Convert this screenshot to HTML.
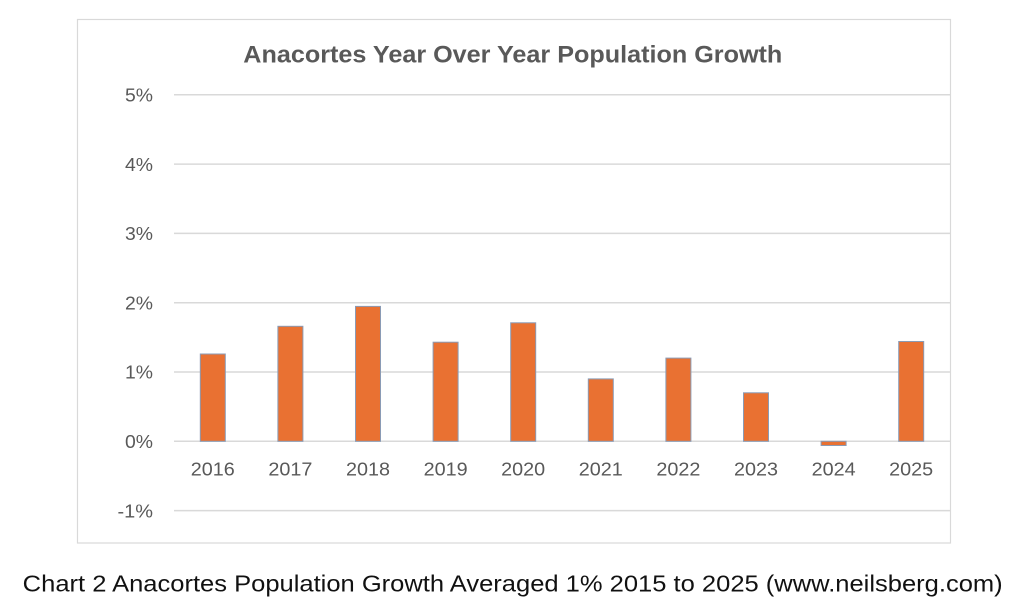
<!DOCTYPE html>
<html>
<head>
<meta charset="utf-8">
<style>
  html, body { margin: 0; padding: 0; background: #ffffff; }
  svg { display: block; }
  text { font-family: "Liberation Sans", "DejaVu Sans", sans-serif; }
</style>
</head>
<body>
<svg width="1024" height="616" viewBox="0 0 1024 616" xmlns="http://www.w3.org/2000/svg">
  <rect x="0" y="0" width="1024" height="616" fill="#ffffff"/>
  <!-- chart border -->
  <rect x="77.5" y="19.5" width="873" height="523.5" fill="#ffffff" stroke="#d9d9d9" stroke-width="1.2"/>

  <!-- title -->
  <text x="243.3" y="62.3" font-size="24" font-weight="bold" fill="#595959" textLength="539" lengthAdjust="spacingAndGlyphs">Anacortes Year Over Year Population Growth</text>

  <!-- gridlines -->
  <g stroke="#d9d9d9" stroke-width="1.5">
    <line x1="174" y1="94.8" x2="950" y2="94.8"/>
    <line x1="174" y1="164.1" x2="950" y2="164.1"/>
    <line x1="174" y1="233.4" x2="950" y2="233.4"/>
    <line x1="174" y1="302.7" x2="950" y2="302.7"/>
    <line x1="174" y1="372.0" x2="950" y2="372.0"/>
    <line x1="174" y1="441.3" x2="950" y2="441.3"/>
    <line x1="174" y1="510.6" x2="950" y2="510.6"/>
  </g>

  <!-- y tick labels -->
  <g font-size="18.5" fill="#595959" text-anchor="end">
    <text x="153" y="101.5" textLength="28" lengthAdjust="spacingAndGlyphs">5%</text>
    <text x="153" y="170.8" textLength="28" lengthAdjust="spacingAndGlyphs">4%</text>
    <text x="153" y="240.1" textLength="28" lengthAdjust="spacingAndGlyphs">3%</text>
    <text x="153" y="309.4" textLength="28" lengthAdjust="spacingAndGlyphs">2%</text>
    <text x="153" y="378.7" textLength="28" lengthAdjust="spacingAndGlyphs">1%</text>
    <text x="153" y="448.0" textLength="28" lengthAdjust="spacingAndGlyphs">0%</text>
    <text x="153" y="517.3" textLength="35.5" lengthAdjust="spacingAndGlyphs">-1%</text>
  </g>

  <!-- bars -->
  <g fill="#e97132" stroke="#8a9bb5" stroke-width="1">
    <rect x="200.3" y="354.0" width="25" height="87.3"/>
    <rect x="277.9" y="326.3" width="25" height="115.0"/>
    <rect x="355.5" y="306.4" width="25" height="134.9"/>
    <rect x="433.1" y="342.2" width="25" height="99.1"/>
    <rect x="510.7" y="322.8" width="25" height="118.5"/>
    <rect x="588.3" y="378.9" width="25" height="62.4"/>
    <rect x="665.9" y="358.1" width="25" height="83.2"/>
    <rect x="743.5" y="392.8" width="25" height="48.5"/>
    <rect x="821.1" y="441.3" width="25" height="4.2"/>
    <rect x="898.7" y="341.5" width="25" height="99.8"/>
  </g>

  <!-- x labels -->
  <g font-size="18.5" fill="#595959" text-anchor="middle">
    <text x="212.8" y="475.5" textLength="44" lengthAdjust="spacingAndGlyphs">2016</text>
    <text x="290.4" y="475.5" textLength="44" lengthAdjust="spacingAndGlyphs">2017</text>
    <text x="368.0" y="475.5" textLength="44" lengthAdjust="spacingAndGlyphs">2018</text>
    <text x="445.6" y="475.5" textLength="44" lengthAdjust="spacingAndGlyphs">2019</text>
    <text x="523.2" y="475.5" textLength="44" lengthAdjust="spacingAndGlyphs">2020</text>
    <text x="600.8" y="475.5" textLength="44" lengthAdjust="spacingAndGlyphs">2021</text>
    <text x="678.4" y="475.5" textLength="44" lengthAdjust="spacingAndGlyphs">2022</text>
    <text x="756.0" y="475.5" textLength="44" lengthAdjust="spacingAndGlyphs">2023</text>
    <text x="833.6" y="475.5" textLength="44" lengthAdjust="spacingAndGlyphs">2024</text>
    <text x="911.2" y="475.5" textLength="44" lengthAdjust="spacingAndGlyphs">2025</text>
  </g>

  <!-- caption -->
  <text x="22.7" y="591.7" font-size="23" fill="#111111" textLength="980" lengthAdjust="spacingAndGlyphs">Chart 2 Anacortes Population Growth Averaged 1% 2015 to 2025 (www.neilsberg.com)</text>
</svg>
</body>
</html>
